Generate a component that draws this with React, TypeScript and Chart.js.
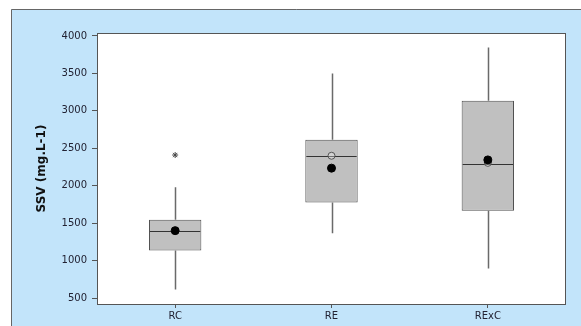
import React, { useEffect, useRef } from 'react';
import { Chart, registerables } from 'chart.js';

Chart.register(...registerables);

const categories = ['RC', 'RE', 'RExC'];
const whiskerLow = [615, 1365, 895];
const q1 = [1135, 1775, 1665];
const median = [1395, 2395, 2290];
const q3 = [1545, 2615, 3135];
const whiskerHigh = [1980, 3500, 3845];
const means = [1400, 2235, 2345];
const medianMarks: (number | null)[] = [null, 2400, 2305];
const outliers: (number | null)[] = [2410, null, null];
const yTicks = [500, 1000, 1500, 2000, 2500, 3000, 3500, 4000];
const yMin = 420;
const yMax = 4040;

const boxPlugin = {
  id: 'boxExtras',
  beforeDraw(chart: any) {
    const ctx = chart.ctx;
    ctx.save();
    ctx.fillStyle = '#C2E4FA';
    ctx.fillRect(11, 9, chart.width, chart.height);
    ctx.strokeStyle = '#666666';
    ctx.lineWidth = 1;
    ctx.beginPath();
    ctx.moveTo(11.5, chart.height);
    ctx.lineTo(11.5, 9.5);
    ctx.lineTo(chart.width, 9.5);
    ctx.stroke();
    const a = chart.chartArea;
    ctx.fillStyle = '#ffffff';
    ctx.fillRect(a.left, a.top, a.right - a.left, a.bottom - a.top);
    ctx.restore();
  },
  afterDatasetDraw(chart: any, args: any) {
    if (args.index !== 0) return;
    const ctx = chart.ctx;
    const ys = chart.scales.y;
    const meta = chart.getDatasetMeta(0);
    ctx.save();
    categories.forEach((_c, i) => {
      const bar = meta.data[i];
      const x = Math.round(bar.x) + 0.5;
      const half = bar.width / 2;
      ctx.strokeStyle = '#6a6a6a';
      ctx.lineWidth = 1.5;
      ctx.beginPath();
      ctx.moveTo(x, ys.getPixelForValue(q3[i]));
      ctx.lineTo(x, ys.getPixelForValue(whiskerHigh[i]));
      ctx.moveTo(x, ys.getPixelForValue(q1[i]));
      ctx.lineTo(x, ys.getPixelForValue(whiskerLow[i]));
      ctx.stroke();
      const my = Math.round(ys.getPixelForValue(median[i])) + 0.5;
      ctx.strokeStyle = '#333333';
      ctx.lineWidth = 1;
      ctx.beginPath();
      ctx.moveTo(bar.x - half + 1, my);
      ctx.lineTo(bar.x + half - 1, my);
      ctx.stroke();
    });
    ctx.restore();
  },
  afterDraw(chart: any) {
    const ctx = chart.ctx;
    const a = chart.chartArea;
    ctx.save();
    ctx.strokeStyle = '#555555';
    ctx.lineWidth = 1;
    ctx.strokeRect(Math.round(a.left) + 0.5, Math.round(a.top) + 0.5, Math.round(a.right - a.left) - 1, Math.round(a.bottom - a.top));
    ctx.restore();
  },
};

export default function App() {
  const ref = useRef<HTMLCanvasElement | null>(null);
  useEffect(() => {
    document.body.style.margin = '0';
    if (!ref.current) return;
    const chart = new Chart(ref.current, {
      type: 'bar',
      data: {
        labels: categories,
        datasets: [
          {
            type: 'bar',
            data: categories.map((_c, i) => [q1[i], q3[i]]) as any,
            backgroundColor: '#C0C0C0',
            borderColor: '#505050',
            borderWidth: 1,
            borderSkipped: false,
            barPercentage: 0.335,
            categoryPercentage: 1,
            order: 10,
          } as any,
          {
            type: 'line',
            data: medianMarks as any,
            showLine: false,
            pointStyle: 'circle',
            pointRadius: 3.5,
            pointBackgroundColor: 'rgba(255,255,255,0.3)',
            pointBorderColor: '#555555',
            pointBorderWidth: 1,
            order: 5,
          } as any,
          {
            type: 'line',
            data: means as any,
            showLine: false,
            pointStyle: 'circle',
            pointRadius: 4,
            pointBackgroundColor: '#000000',
            pointBorderColor: '#000000',
            pointBorderWidth: 1,
            order: 2,
          } as any,
          {
            type: 'line',
            data: outliers as any,
            showLine: false,
            pointStyle: 'star',
            pointRadius: 3,
            pointBackgroundColor: '#444444',
            pointBorderColor: '#444444',
            pointBorderWidth: 1,
            order: 1,
          } as any,
        ],
      },
      options: {
        responsive: false,
        animation: false,
        devicePixelRatio: 1,
        layout: { padding: { top: 33, right: 15, left: 0, bottom: 0 } },
        plugins: { legend: { display: false }, tooltip: { enabled: false } },
        scales: {
          x: {
            type: 'category',
            offset: true,
            border: { display: false },
            grid: { display: true, drawOnChartArea: false, drawTicks: true, tickLength: 4, color: '#555555', offset: false },
            ticks: { color: '#222233', font: { family: 'DejaVu Sans', size: 10 }, padding: 2 },
            afterFit: (s: any) => { s.height = 22; },
          },
          y: {
            min: yMin,
            max: yMax,
            border: { display: false },
            grid: { display: true, drawOnChartArea: false, drawTicks: true, tickLength: 5, color: '#555555' },
            ticks: {
              color: '#222233',
              font: { family: 'DejaVu Sans', size: 10 },
              padding: 5,
              callback: (v: any) => String(v),
            },
            afterBuildTicks: (s: any) => { s.ticks = yTicks.map((v) => ({ value: v })); },
            title: {
              display: true,
              text: 'SSV (mg.L-1)',
              color: '#111111',
              font: { family: 'DejaVu Sans', size: 12, weight: 'bold' },
              padding: { top: 35, bottom: 0 },
            },
            afterFit: (s: any) => { s.width = 97; },
          },
        },
      },
      plugins: [boxPlugin],
    } as any);
    return () => chart.destroy();
  }, []);
  return (
    <div style={{ position: 'fixed', left: 0, top: 0, width: 581, height: 326 }}>
      <canvas ref={ref} width={581} height={326} />
    </div>
  );
}
